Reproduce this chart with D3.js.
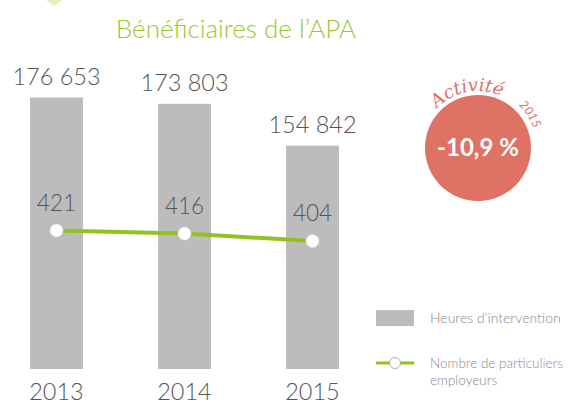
<!DOCTYPE html>
<html>
<head>
<meta charset="utf-8">
<script src="https://cdn.jsdelivr.net/npm/d3@7"></script>
<style>
  body { margin: 0; background: #fff; }
  svg { font-family: "Lato", "DejaVu Sans", sans-serif; font-weight: 300; }
</style>
</head>
<body>
<div id="chart"></div>
<script>
const years = ["2013", "2014", "2015"];
const heures = [176653, 173803, 154842];
const particuliers = [421, 416, 404];
const badgeValue = "-10,9 %";

const width = 570, height = 405;
const svg = d3.select("#chart").append("svg")
    .attr("width", width)
    .attr("height", height);

const fmt = v => d3.format(",")(v).replace(",", " ");

// Scales
const x = d3.scaleBand()
    .domain(years)
    .range([30, 339])
    .paddingInner(0.586)
    .paddingOuter(0);

const yBar = d3.scaleLinear()
    .domain([53700, 176653])
    .range([369, 97.5]);

const yLine = d3.scaleLinear()
    .domain([404, 421])
    .range([241, 230.5]);

// little decoration top-left
svg.append("path")
    .attr("d", "M46,0 L62,0 L54,6 Z")
    .attr("fill", "#e4efc4");

// Title
svg.append("text")
    .attr("x", 236).attr("y", 38)
    .attr("text-anchor", "middle")
    .attr("fill", "#9cc630")
    .attr("font-size", 26)
    .text("Bénéficiaires de l’APA");

// Bars
svg.selectAll("rect.bar")
    .data(heures)
    .enter().append("rect")
    .attr("class", "bar")
    .attr("x", (d, i) => x(years[i]))
    .attr("width", x.bandwidth())
    .attr("y", d => yBar(d))
    .attr("height", d => yBar.range()[0] - yBar(d))
    .attr("fill", "#bcbcbc");

svg.selectAll("text.barlab")
    .data(heures)
    .enter().append("text")
    .attr("class", "barlab")
    .attr("x", (d, i) => x(years[i]) + x.bandwidth() / 2)
    .attr("y", d => yBar(d) - 13)
    .attr("text-anchor", "middle")
    .attr("fill", "#555")
    .attr("font-size", 23.5)
    .text(d => fmt(d));

// Year labels
svg.selectAll("text.year")
    .data(years)
    .enter().append("text")
    .attr("class", "year")
    .attr("x", d => x(d) + x.bandwidth() / 2)
    .attr("y", 400)
    .attr("text-anchor", "middle")
    .attr("fill", "#555")
    .attr("font-size", 23.5)
    .text(d => d);

// Line
const cx = (d, i) => x(years[i]) + x.bandwidth() / 2;
const line = d3.line()
    .x(cx)
    .y(d => yLine(d));

svg.append("path")
    .datum(particuliers)
    .attr("d", line)
    .attr("fill", "none")
    .attr("stroke", "#94c11f")
    .attr("stroke-width", 4);

svg.selectAll("circle.pt")
    .data(particuliers)
    .enter().append("circle")
    .attr("class", "pt")
    .attr("cx", cx)
    .attr("cy", d => yLine(d))
    .attr("r", 6.5)
    .attr("fill", "#fff")
    .attr("stroke", "#ddd")
    .attr("stroke-width", 0.8);

svg.selectAll("text.linelab")
    .data(particuliers)
    .enter().append("text")
    .attr("class", "linelab")
    .attr("x", cx)
    .attr("y", d => yLine(d) - 20)
    .attr("text-anchor", "middle")
    .attr("fill", "#555")
    .attr("font-size", 22.5)
    .text(d => d);

// Badge
const badge = svg.append("g").attr("transform", "translate(478,148)");
badge.append("circle")
    .attr("r", 53)
    .attr("fill", "#de7264");
badge.append("text")
    .attr("y", 8)
    .attr("text-anchor", "middle")
    .attr("fill", "#fff")
    .attr("font-size", 24)
    .attr("font-weight", "bold")
    .text(badgeValue);

// clockwise arc path, angles in radians from 12 o'clock
const arcPath = (r, a0, a1) =>
    `M${r * Math.sin(a0)},${-r * Math.cos(a0)} A${r},${r} 0 0 1 ${r * Math.sin(a1)},${-r * Math.cos(a1)}`;

badge.append("path")
    .attr("id", "arcAct")
    .attr("d", arcPath(57, -1.0, 0.8))
    .attr("fill", "none");
badge.append("path")
    .attr("id", "arcYear")
    .attr("d", arcPath(59, 0.5, 1.6))
    .attr("fill", "none");

badge.append("text")
    .attr("font-family", "DejaVu Serif, serif")
    .attr("font-style", "italic")
    .attr("font-weight", "normal")
    .attr("font-size", 18)
    .attr("fill", "#de7264")
    .attr("stroke", "#fff")
    .attr("stroke-width", 4)
    .attr("paint-order", "stroke")
    .append("textPath")
    .attr("href", "#arcAct")
    .attr("startOffset", "45%")
    .attr("text-anchor", "middle")
    .text("Activité");

badge.append("text")
    .attr("font-size", 12)
    .attr("font-weight", "normal")
    .attr("fill", "#de7264")
    .attr("stroke", "#fff")
    .attr("stroke-width", 3)
    .attr("paint-order", "stroke")
    .attr("font-style", "italic")
    .append("textPath")
    .attr("href", "#arcYear")
    .attr("startOffset", "45%")
    .attr("text-anchor", "middle")
    .text("2015");

// Legend
const legend = svg.append("g").attr("transform", "translate(376,310)");
legend.append("rect")
    .attr("width", 38).attr("height", 16)
    .attr("fill", "#bcbcbc");
legend.append("text")
    .attr("x", 54).attr("y", 13)
    .attr("fill", "#888")
    .attr("font-size", 14)
    .text("Heures d’intervention");

legend.append("line")
    .attr("x1", 0).attr("x2", 38)
    .attr("y1", 53).attr("y2", 53)
    .attr("stroke", "#94c11f")
    .attr("stroke-width", 3);
legend.append("circle")
    .attr("cx", 19).attr("cy", 53).attr("r", 5.5)
    .attr("fill", "#fff")
    .attr("stroke", "#999")
    .attr("stroke-width", 0.8);
legend.append("text")
    .attr("x", 54).attr("y", 58)
    .attr("fill", "#888")
    .attr("font-size", 13.5)
    .text("Nombre de particuliers");
legend.append("text")
    .attr("x", 54).attr("y", 75)
    .attr("fill", "#888")
    .attr("font-size", 13.5)
    .text("employeurs");
</script>
</body>
</html>
